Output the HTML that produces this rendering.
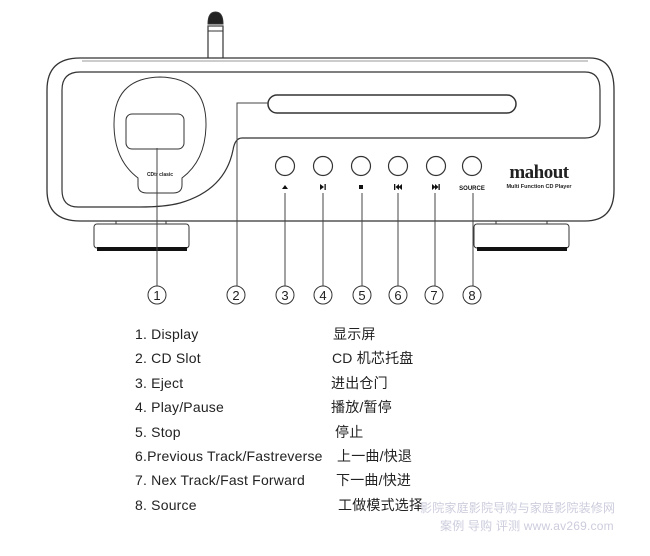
<!DOCTYPE html>
<html><head><meta charset="utf-8"><style>
html,body{margin:0;padding:0;background:#fff;}
body{width:650px;height:556px;position:relative;overflow:hidden;font-family:"Liberation Sans","Noto Sans CJK SC",sans-serif;color:#222;}
svg{position:absolute;left:0;top:0;}
.t{position:absolute;font-size:14px;line-height:16px;white-space:nowrap;letter-spacing:0.2px;}
</style></head><body>
<svg width="650" height="556" viewBox="0 0 650 556" fill="none" stroke="#333" stroke-width="1">
<path d="M208 58 V26 H223 V58" stroke="#444" fill="#fff" stroke-width="1.3"/>
<line x1="208" y1="31" x2="223" y2="31"/>
<path d="M208 24 Q208 12 215.5 12 Q223 12 223 24 Z" fill="#222"/>
<path d="M80 58 H590 Q614 58 614 90 V190 Q614 221 585 221 H80 Q47 221 47 190 V90 Q47 58 80 58 Z" stroke-width="1.3"/>
<path d="M82 61 H588" stroke="#999"/>
<path d="M80 72 H585 Q600 72 600 90 V122 Q600 138 585 138 H242 Q235 138 233 150 Q225 190 180 203 Q165 207 140 207 H78 Q62 207 62 190 V90 Q62 72 80 72 Z" stroke-width="1.2"/>
<path d="M138 178 Q114 160 114 124 Q114 78 160 77 Q206 78 206 124 Q206 160 182 178 V185 Q182 193 173 193 H147 Q138 193 138 185 Z"/>
<rect x="126" y="114" width="58" height="35" rx="6"/>
<text x="160" y="176" font-size="5" font-family="Liberation Sans" font-weight="bold" text-anchor="middle" fill="#222" stroke="none">CDtr clasic</text>
<rect x="268" y="95" width="248" height="18" rx="9" stroke-width="1.5"/>
<g stroke-width="1.2">
<circle cx="285" cy="166" r="9.5"/><circle cx="323" cy="166" r="9.5"/><circle cx="361" cy="166" r="9.5"/>
<circle cx="398" cy="166" r="9.5"/><circle cx="436" cy="166" r="9.5"/><circle cx="472" cy="166" r="9.5"/>
</g>
<g fill="#111" stroke="none">
<path d="M282 189 L285 185 L288 189 Z"/>
<path d="M320 184 L324 187 L320 190 Z"/><rect x="324.5" y="184" width="1.3" height="6"/>
<rect x="359" y="185" width="4" height="4"/>
<rect x="394" y="184" width="1.3" height="6"/><path d="M399 184 L395.5 187 L399 190 Z"/><path d="M402 184 L398.5 187 L402 190 Z"/>
<path d="M432 184 L435.5 187 L432 190 Z"/><path d="M435 184 L438.5 187 L435 190 Z"/><rect x="438.5" y="184" width="1.3" height="6"/>
</g>
<text x="472" y="190" font-size="6" font-weight="bold" text-anchor="middle" fill="#111" stroke="none" font-family="Liberation Sans">SOURCE</text>
<text x="539" y="178" font-size="19" font-weight="bold" text-anchor="middle" fill="#222" stroke="none" font-family="Liberation Serif" letter-spacing="-0.5">mahout</text>
<text x="539" y="188" font-size="5.5" font-weight="bold" text-anchor="middle" fill="#222" stroke="none" font-family="Liberation Sans">Multi Function CD Player</text>
<path d="M116 224 V221 M166 221 V224"/>
<rect x="94" y="224" width="95" height="24" rx="3"/>
<rect x="97" y="247" width="90" height="4" fill="#111" stroke="none"/>
<path d="M496 224 V221 M547 221 V224"/>
<rect x="474" y="224" width="95" height="24" rx="3"/>
<rect x="477" y="247" width="90" height="4" fill="#111" stroke="none"/>
<g stroke="#444">
<line x1="157" y1="148" x2="157" y2="286"/>
<path d="M268 103 H237 V286"/>
<line x1="285" y1="193" x2="285" y2="286"/>
<line x1="323" y1="193" x2="323" y2="286"/>
<line x1="362" y1="193" x2="362" y2="286"/>
<line x1="398" y1="193" x2="398" y2="286"/>
<line x1="435" y1="193" x2="435" y2="286"/>
<line x1="473" y1="193" x2="473" y2="286"/>
</g>
<g stroke="#333">
<circle cx="157" cy="295" r="9"/><circle cx="236" cy="295" r="9"/><circle cx="285" cy="295" r="9"/><circle cx="323" cy="295" r="9"/>
<circle cx="362" cy="295" r="9"/><circle cx="398" cy="295" r="9"/><circle cx="434" cy="295" r="9"/><circle cx="472" cy="295" r="9"/>
</g>
<g font-size="13" fill="#222" stroke="none" text-anchor="middle" font-family="Liberation Sans">
<text x="157" y="300">1</text><text x="236" y="300">2</text><text x="285" y="300">3</text><text x="323" y="300">4</text>
<text x="362" y="300">5</text><text x="398" y="300">6</text><text x="434" y="300">7</text><text x="472" y="300">8</text>
</g>
</svg>
<div class="t" style="left:135px;top:326px">1. Display</div>
<div class="t" style="left:135px;top:350px">2. CD Slot</div>
<div class="t" style="left:135px;top:375px">3. Eject</div>
<div class="t" style="left:135px;top:399px">4. Play/Pause</div>
<div class="t" style="left:135px;top:424px">5. Stop</div>
<div class="t" style="left:135px;top:448px">6.Previous Track/Fastreverse</div>
<div class="t" style="left:135px;top:472px">7. Nex Track/Fast Forward</div>
<div class="t" style="left:135px;top:497px">8. Source</div>
<div class="t" style="left:333px;top:326px">显示屏</div>
<div class="t" style="left:332px;top:350px">CD 机芯托盘</div>
<div class="t" style="left:331px;top:375px">进出仓门</div>
<div class="t" style="left:331px;top:399px">播放/暂停</div>
<div class="t" style="left:335px;top:424px">停止</div>
<div class="t" style="left:337px;top:448px">上一曲/快退</div>
<div class="t" style="left:336px;top:472px">下一曲/快进</div>
<div class="t" style="left:338px;top:497px">工做模式选择</div>
<div class="t" style="left:420px;top:500px;font-size:12px;color:#ccd">影院家庭影院导购与家庭影院装修网</div>
<div class="t" style="left:440px;top:518px;font-size:12px;color:#ccd">案例 导购 评测 www.av269.com</div>
</body></html>
